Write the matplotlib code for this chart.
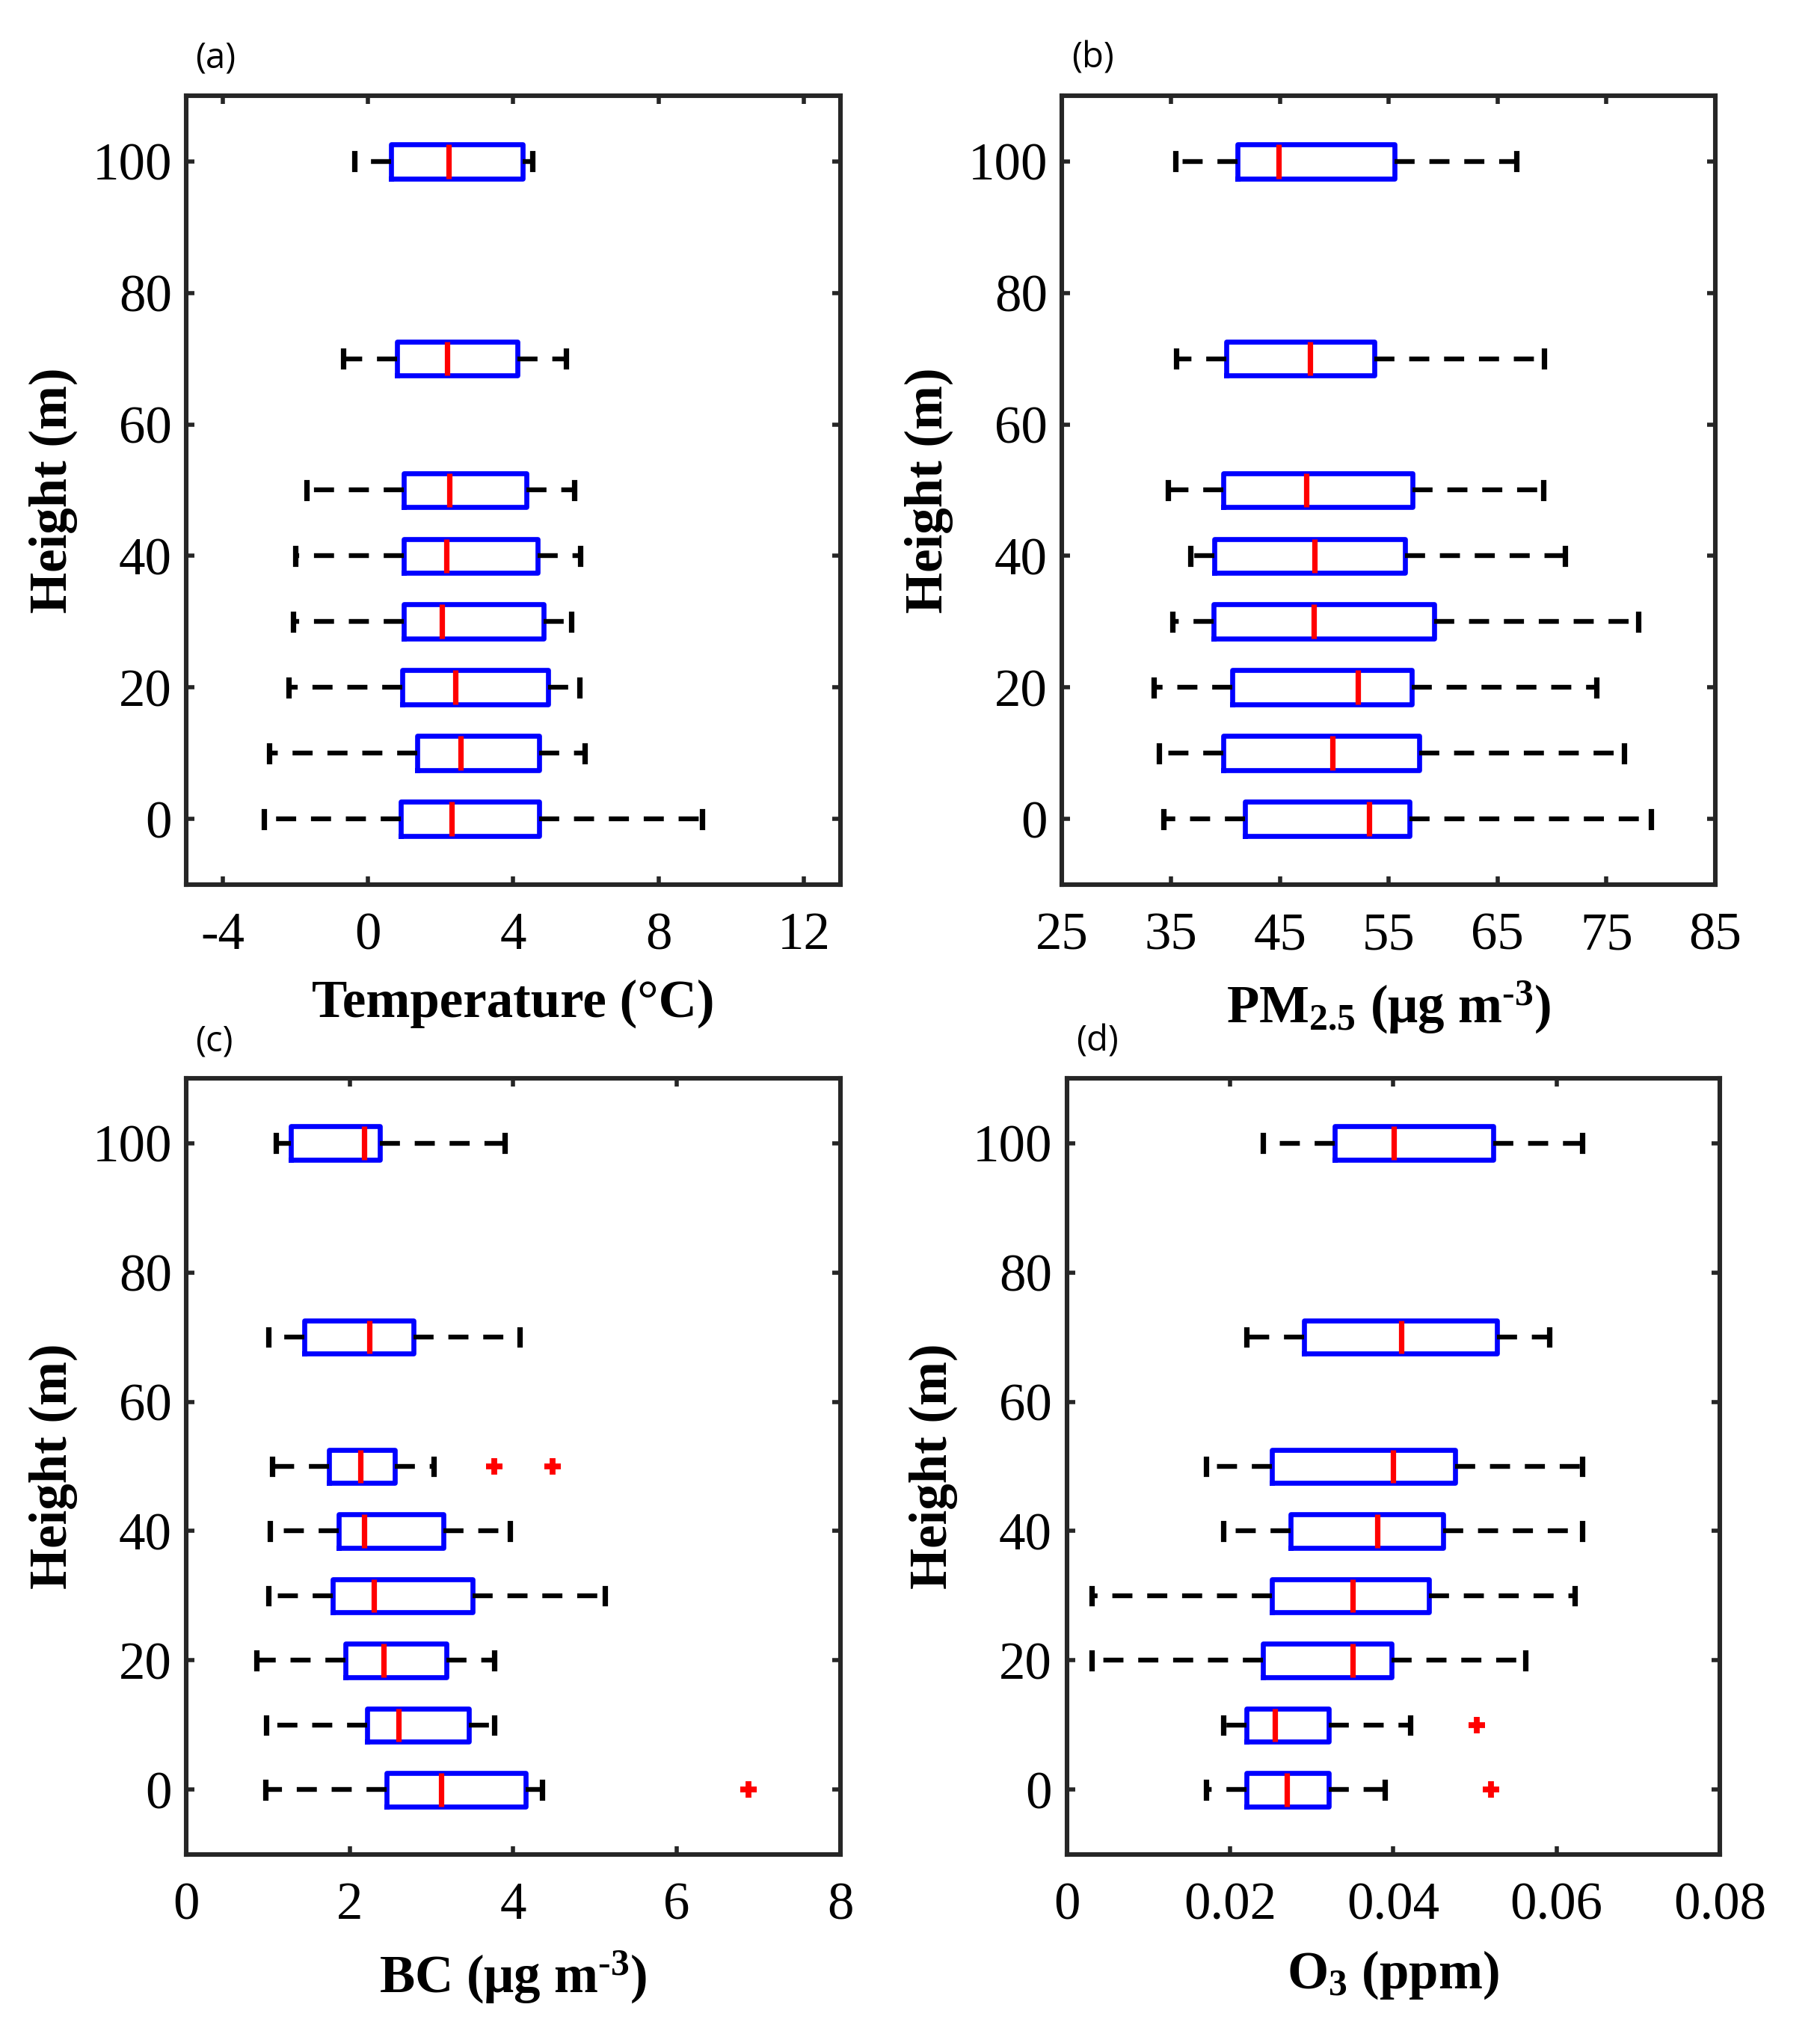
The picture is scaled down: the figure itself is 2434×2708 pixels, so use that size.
import matplotlib
matplotlib.use('Agg')
import matplotlib.pyplot as plt

plt.rcParams['font.family'] = 'Liberation Serif'
plt.rcParams['mathtext.fontset'] = 'custom'
plt.rcParams['mathtext.rm'] = 'Liberation Serif:bold'
plt.rcParams['mathtext.bf'] = 'Liberation Serif:bold'
plt.rcParams['mathtext.default'] = 'bf'
plt.rcParams['axes.unicode_minus'] = False

# -------------------------
# Data
# -------------------------
heights = [0, 10, 20, 30, 40, 50, 70, 100]

# (a) Temperature
temp_lo = [-2.87, -2.72, -2.19, -2.07, -1.99, -1.70, -0.69, -0.38]
temp_q1 = [0.91, 1.36, 0.94, 0.98, 0.98, 0.98, 0.80, 0.64]
temp_med = [2.31, 2.55, 2.40, 2.03, 2.15, 2.24, 2.19, 2.23]
temp_q3 = [4.72, 4.71, 4.96, 4.84, 4.68, 4.36, 4.12, 4.26]
temp_hi = [9.21, 5.96, 5.83, 5.59, 5.84, 5.68, 5.46, 4.53]
temp_out = [[], [], [], [], [], [], [], []]

# (b) PM2.5
pm_lo = [34.3, 33.9, 33.4, 35.1, 36.8, 34.7, 35.5, 35.4]
pm_q1 = [41.8, 39.8, 40.6, 38.9, 39.0, 39.8, 40.1, 41.1]
pm_med = [53.2, 49.8, 52.2, 48.1, 48.2, 47.4, 47.8, 44.9]
pm_q3 = [56.9, 57.8, 57.1, 59.2, 56.5, 57.2, 53.7, 55.5]
pm_hi = [79.1, 76.6, 74.1, 77.9, 71.2, 69.2, 69.3, 66.7]
pm_out = [[], [], [], [], [], [], [], []]

# (c) BC
bc_lo = [0.97, 0.98, 0.86, 1.00, 1.02, 1.05, 1.00, 1.10]
bc_q1 = [2.45, 2.21, 1.95, 1.79, 1.86, 1.75, 1.44, 1.28]
bc_med = [3.12, 2.60, 2.41, 2.29, 2.18, 2.13, 2.24, 2.18]
bc_q3 = [4.15, 3.46, 3.18, 3.50, 3.15, 2.55, 2.78, 2.37]
bc_hi = [4.35, 3.77, 3.77, 5.12, 3.96, 3.03, 4.08, 3.90]
bc_out = [[6.88], [], [], [], [], [3.77, 4.48], [], []]

# (d) O3
o3_lo = [0.0171, 0.0192, 0.0031, 0.0031, 0.0192, 0.0171, 0.0220, 0.0240]
o3_q1 = [0.0220, 0.0220, 0.0240, 0.0251, 0.0274, 0.0251, 0.0291, 0.0328]
o3_med = [0.0270, 0.0255, 0.0350, 0.0350, 0.0380, 0.0400, 0.0410, 0.0401]
o3_q3 = [0.0321, 0.0321, 0.0398, 0.0444, 0.0461, 0.0476, 0.0527, 0.0522]
o3_hi = [0.0390, 0.0421, 0.0562, 0.0622, 0.0631, 0.0631, 0.0591, 0.0631]
o3_out = [[0.0520], [0.0502], [], [], [], [], [], []]

temp_ticks = [-4, 0, 4, 8, 12]
pm_ticks = [25, 35, 45, 55, 65, 75, 85]
bc_ticks = [0, 2, 4, 6, 8]
o3_ticks = [0, 0.02, 0.04, 0.06, 0.08]
o3_ticklabels = ['0', '0.02', '0.04', '0.06', '0.08']

height_ticks = [0, 20, 40, 60, 80, 100]

# -------------------------
# Figure
# -------------------------
fig = plt.figure(figsize=(12.17, 13.54), dpi=200)

axes_rects = [
    [0.1024, 0.5631, 0.3592, 0.3897],
    [0.5836, 0.5631, 0.3589, 0.3897],
    [0.1024, 0.0842, 0.3592, 0.3833],
    [0.5861, 0.0842, 0.3589, 0.3833],
]

panels = [
    ('(a)', 'Temperature (°C)', (temp_lo, temp_q1, temp_med, temp_q3, temp_hi, temp_out),
     (-5, 13), temp_ticks, None),
    ('(b)', r'PM$_{2.5}$ (μg m$^{\text{-}3}$)', (pm_lo, pm_q1, pm_med, pm_q3, pm_hi, pm_out),
     (25, 85), pm_ticks, None),
    ('(c)', r'BC (μg m$^{\text{-}3}$)', (bc_lo, bc_q1, bc_med, bc_q3, bc_hi, bc_out),
     (0, 8), bc_ticks, None),
    ('(d)', 'O$_3$ (ppm)', (o3_lo, o3_q1, o3_med, o3_q3, o3_hi, o3_out),
     (0, 0.08), o3_ticks, o3_ticklabels),
]

spine_col = '#262626'

for rect, (tag, xlabel, data, xlim, xticks, xticklabels) in zip(axes_rects, panels):
    ax = fig.add_axes(rect)
    lo, q1, med, q3, hi, out = data
    stats = []
    for i in range(len(heights)):
        stats.append(dict(whislo=lo[i], q1=q1[i], med=med[i], q3=q3[i],
                          whishi=hi[i], fliers=out[i]))

    ax.bxp(stats, positions=heights, widths=5.2, capwidths=2.4,
           orientation='horizontal', manage_ticks=False,
           boxprops=dict(color='blue', linewidth=2.4),
           medianprops=dict(color='red', linewidth=2.6, solid_capstyle='butt'),
           whiskerprops=dict(color='black', linewidth=2.3, linestyle=(0, (4.2, 3.1))),
           capprops=dict(color='black', linewidth=2.6),
           flierprops=dict(marker='+', markeredgecolor='red', markersize=8,
                           markeredgewidth=2.8, linestyle='none'))

    ax.set_xlim(*xlim)
    ax.set_ylim(-10, 110)
    ax.set_xticks(xticks)
    if xticklabels is not None:
        ax.set_xticklabels(xticklabels)
    ax.set_yticks(height_ticks)

    ax.tick_params(direction='in', top=True, right=True, length=4, width=2,
                   color=spine_col, labelsize=25.5)
    ax.tick_params(axis='x', pad=13)
    ax.tick_params(axis='y', pad=7)
    for s in ax.spines.values():
        s.set_linewidth(2.2)
        s.set_color(spine_col)

    ax.set_xlabel(xlabel, fontsize=25.5, fontweight='bold', labelpad=9)
    ax.set_ylabel('Height (m)', fontsize=25.5, fontweight='bold', labelpad=7)

    ax.text(0.014, 1.047, tag, transform=ax.transAxes, ha='left', va='center',
            fontsize=17, family='Open Sans')

fig.savefig('out.png', dpi=200)
